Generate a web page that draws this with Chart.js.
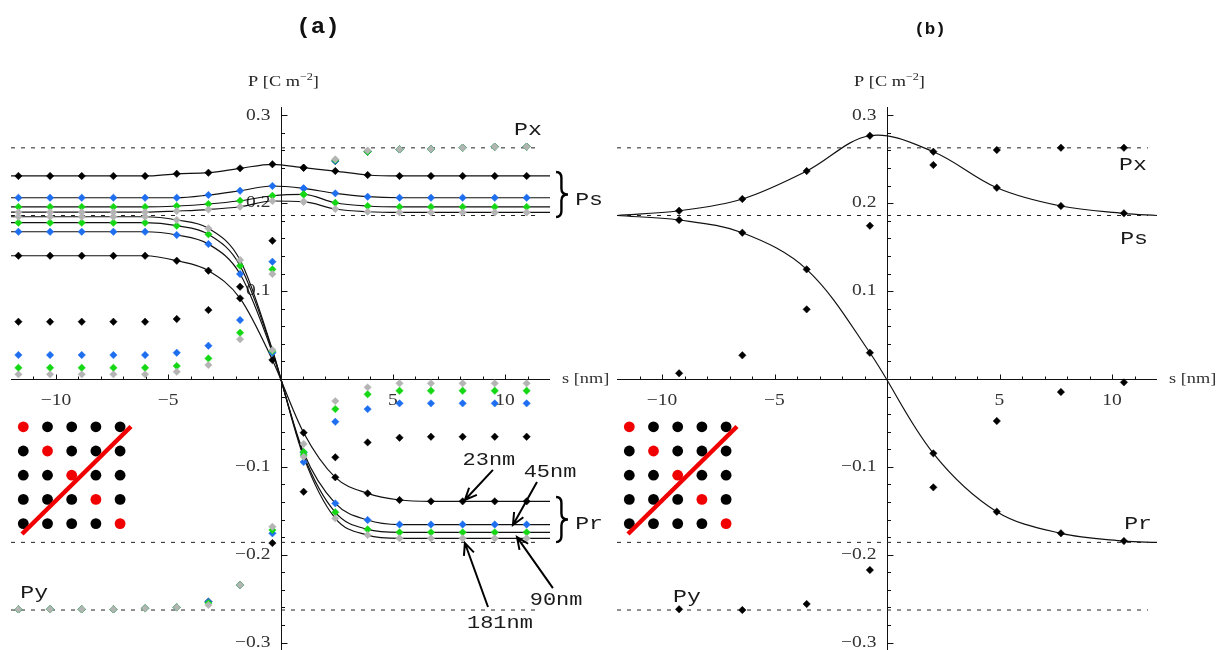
<!DOCTYPE html>
<html>
<head>
<meta charset="utf-8">
<script src="https://cdn.jsdelivr.net/npm/chart.js@4.4.1/dist/chart.umd.min.js"></script>
<style>
  html, body { margin: 0; padding: 0; background: #fff; }
  #wrap { position: relative; width: 1220px; height: 650px; overflow: hidden; }
  #wrap canvas { position: absolute; left: 0; top: 0; }
</style>
</head>
<body>
<div id="wrap">
  <canvas id="chartA" width="1220" height="650"></canvas>
  <canvas id="chartB" width="1220" height="650"></canvas>
</div>
<script>
// axis ranges (s in nm, P in C m^-2)
const S_MIN = -12, S_MAX = 12;
const P_MIN = -0.3085, P_MAX = 0.3095;
const xTickLabels = [-10, -5, 5, 10];
const yTickLabels = [-0.3, -0.2, -0.1, 0.1, 0.2, 0.3];

// reference levels (dashed)
const levelPx = 0.263, levelPs = 0.186, levelPr = -0.186, levelPy = -0.263;
const levelEnd = 11.6;

// (a) wall positions
const sA = [-11.67, -10.26, -8.85, -7.44, -6.03, -4.62, -3.21, -1.8, -0.36, 1.03, 2.44, 3.88, 5.3, 6.7, 8.11, 9.54, 10.96];

// 23 nm
const ps23 = [0.231, 0.231, 0.231, 0.231, 0.231, 0.2335, 0.2347, 0.2397, 0.2443, 0.2404, 0.2366, 0.2321, 0.231, 0.231, 0.231, 0.231, 0.231];
const pr23 = [0.1402, 0.1402, 0.1402, 0.1402, 0.1402, 0.1345, 0.1232, 0.0917, 0.0215, -0.0612, -0.112, -0.1302, -0.1378, -0.1393, -0.1393, -0.1393, -0.1393];
const px23 = [0.0651, 0.0651, 0.0651, 0.0651, 0.0651, 0.0682, 0.0784, 0.1049, 0.1573, 0.2404, 0.248, 0.2586, 0.2613, 0.2617, 0.2631, 0.2643, 0.2643];
const py23 = [-0.2622, -0.2622, -0.2622, -0.2622, -0.2611, -0.26, -0.2536, -0.2346, -0.1868, -0.1284, -0.0892, -0.0722, -0.0669, -0.0658, -0.0658, -0.0658, -0.0658];

// 45 nm
const ps45 = [0.2062, 0.2062, 0.2062, 0.2062, 0.2062, 0.2062, 0.2093, 0.2142, 0.2196, 0.2169, 0.2112, 0.2074, 0.2062, 0.2062, 0.2062, 0.2062, 0.2062];
const pr45 = [0.1675, 0.1675, 0.1675, 0.1675, 0.1675, 0.1638, 0.1535, 0.1194, 0.0298, -0.0838, -0.1416, -0.1606, -0.1657, -0.1657, -0.1657, -0.1657, -0.1657];
const px45 = [0.0272, 0.0272, 0.0272, 0.0272, 0.0272, 0.0298, 0.0378, 0.067, 0.1334, 0.2169, 0.248, 0.2586, 0.2613, 0.2617, 0.2631, 0.2643, 0.2643];
const py45 = [-0.2622, -0.2622, -0.2622, -0.2622, -0.2611, -0.26, -0.2536, -0.2346, -0.1757, -0.0946, -0.0487, -0.0343, -0.0278, -0.0278, -0.0278, -0.0278, -0.0278];

// 90 nm
const ps90 = [0.1958, 0.1958, 0.1958, 0.1958, 0.1958, 0.1968, 0.1991, 0.2028, 0.2085, 0.2101, 0.2005, 0.1968, 0.1958, 0.1958, 0.1958, 0.1958, 0.1958];
const pr90 = [0.1778, 0.1778, 0.1778, 0.1778, 0.1778, 0.1744, 0.1646, 0.1288, 0.0318, -0.0865, -0.1518, -0.1712, -0.1746, -0.1746, -0.1746, -0.1746, -0.1746];
const px90 = [0.0127, 0.0127, 0.0127, 0.0127, 0.0127, 0.0147, 0.0234, 0.0526, 0.1247, 0.2101, 0.2491, 0.2586, 0.2613, 0.2617, 0.2631, 0.2643, 0.2643];
const py90 = [-0.2622, -0.2622, -0.2622, -0.2622, -0.2611, -0.26, -0.2551, -0.2346, -0.172, -0.0832, -0.0343, -0.0175, -0.0134, -0.0134, -0.0134, -0.0134, -0.0134];

// 181 nm
const ps181 = [0.1898, 0.1898, 0.1898, 0.1898, 0.1898, 0.1911, 0.1928, 0.196, 0.2025, 0.2017, 0.1934, 0.1903, 0.1895, 0.1895, 0.1895, 0.1895, 0.1895];
const pr181 = [0.1846, 0.1846, 0.1846, 0.1846, 0.1846, 0.1809, 0.1714, 0.1353, 0.0329, -0.0887, -0.1587, -0.1777, -0.1814, -0.1814, -0.1814, -0.1814, -0.1814];
const px181 = [0.0052, 0.0052, 0.0052, 0.0052, 0.0052, 0.0082, 0.0158, 0.0451, 0.1194, 0.2017, 0.2499, 0.26, 0.2613, 0.2617, 0.2631, 0.2643, 0.2643];
const py181 = [-0.2622, -0.2622, -0.2622, -0.2622, -0.2611, -0.26, -0.2573, -0.2346, -0.1682, -0.0741, -0.0252, -0.0096, -0.005, -0.005, -0.005, -0.005, -0.005];

// (b) wall positions and polarisation components
const sB = [-9.24, -6.43, -3.57, -0.76, 2.06, 4.88, 7.73, 10.53];
const psB = [0.1914, 0.2048, 0.2366, 0.2768, 0.2586, 0.2176, 0.1968, 0.1885];
const prB = [0.1809, 0.1664, 0.1247, 0.0298, -0.0847, -0.1511, -0.1757, -0.1845];
const pxB = [0.0064, 0.0269, 0.0792, 0.1744, 0.2435, 0.2605, 0.2631, 0.2631];
const pyB = [-0.2622, -0.263, -0.2562, -0.2175, -0.1234, -0.0479, -0.0149, -0.0039];
const psEdgeB = [0.186, 0.186];
const prEdgeB = [0.186, -0.186];

const SERIF = '"Liberation Serif", "DejaVu Serif", serif';
const MONO = '"Liberation Mono", "DejaVu Sans Mono", monospace';
const SX = 1.22; // glyphs in this figure are set wide

function pts(xs, ys) {
    return xs.map((x, i) => ({ x: x, y: ys[i] }));
}

function lineSet(data, smooth) {
    const set = {
        data: data, showLine: true, pointRadius: 0, borderColor: '#111',
        borderWidth: 1.2, order: 10
    };
    if (smooth) set.tension = smooth;
    else set.cubicInterpolationMode = 'monotone';
    return set;
}

function dotSet(data, color, order) {
    return {
        data: data, showLine: false, pointStyle: 'rectRot', pointRadius: 3.7,
        pointBorderWidth: 0.5, backgroundColor: color, borderColor: color, order: order
    };
}

function dashSet(level) {
    return {
        data: pts([S_MIN, levelEnd], [level, level]), showLine: true, pointRadius: 0,
        borderColor: '#222', borderWidth: 1, borderDash: [4, 6], order: 11
    };
}

function text(ctx, str, x, y, font, align, color, sx) {
    ctx.save();
    ctx.font = font;
    ctx.textAlign = align;
    ctx.textBaseline = 'middle';
    ctx.fillStyle = color || '#222';
    ctx.translate(x, y);
    ctx.scale(sx || SX, 1);
    ctx.fillText(str, 0, 0);
    ctx.restore();
}

function fmt(v, digits) {
    const s = Math.abs(v).toFixed(digits);
    return v < 0 ? '\u2212' + s : s;
}

// P [C m^-2] with a raised exponent
function yTitle(ctx, cx, cy) {
    const parts = [
        { t: 'P [C m', f: '15px ' + SERIF, dy: 0 },
        { t: '\u22122', f: '10px ' + SERIF, dy: -5 },
        { t: ']', f: '15px ' + SERIF, dy: 0 }
    ];
    let total = 0;
    parts.forEach(p => { ctx.font = p.f; p.w = ctx.measureText(p.t).width * SX; total += p.w; });
    let x = cx - total / 2;
    parts.forEach(p => { text(ctx, p.t, x, cy + p.dy, p.f, 'left', '#222'); x += p.w; });
}

function brace(ctx, x, yTop, yBot, w) {
    const ym = (yTop + yBot) / 2, xm = x + w * 0.45, r = 6;
    ctx.beginPath();
    ctx.moveTo(x, yTop);
    ctx.quadraticCurveTo(xm, yTop, xm, yTop + r);
    ctx.lineTo(xm, ym - r);
    ctx.quadraticCurveTo(xm, ym, x + w, ym);
    ctx.quadraticCurveTo(xm, ym, xm, ym + r);
    ctx.lineTo(xm, yBot - r);
    ctx.quadraticCurveTo(xm, yBot, x, yBot);
    ctx.stroke();
}

function arrow(ctx, x1, y1, x2, y2) {
    const ang = Math.atan2(y2 - y1, x2 - x1), head = 13, spread = 0.42;
    ctx.beginPath();
    ctx.moveTo(x1, y1);
    ctx.lineTo(x2, y2);
    ctx.moveTo(x2 - head * Math.cos(ang - spread), y2 - head * Math.sin(ang - spread));
    ctx.lineTo(x2, y2);
    ctx.lineTo(x2 - head * Math.cos(ang + spread), y2 - head * Math.sin(ang + spread));
    ctx.stroke();
}

// 5x5 lattice sketch with the red diagonal and the cut line
function lattice(ctx, left, y0) {
    ctx.save();
    for (let r = 0; r < 5; r++) {
        for (let c = 0; c < 5; c++) {
            ctx.beginPath();
            ctx.arc(left + 12.3 + c * 24.2, y0 + 47.8 + r * 24.2, 5.4, 0, Math.PI * 2);
            ctx.fillStyle = r === c ? '#f00000' : '#000';
            ctx.fill();
        }
    }
    ctx.strokeStyle = '#f00000';
    ctx.lineWidth = 4.5;
    ctx.beginPath();
    ctx.moveTo(left + 11, y0 + 155);
    ctx.lineTo(left + 120, y0 + 47.5);
    ctx.stroke();
    ctx.restore();
}

function makeOverlay(cfg) {
    return {
        id: 'overlay' + cfg.key,
        beforeDatasetsDraw(chart) {
            const { ctx, chartArea: a, scales: { x, y } } = chart;
            const x0 = Math.round(x.getPixelForValue(0)) + 0.5;
            const y0 = Math.round(y.getPixelForValue(0)) + 0.5;
            ctx.save();
            ctx.strokeStyle = '#111';
            ctx.lineWidth = 1;
            ctx.beginPath();
            ctx.moveTo(a.left, y0); ctx.lineTo(a.right, y0);
            ctx.moveTo(x0, a.top); ctx.lineTo(x0, a.bottom);
            for (let k = -11; k <= 11; k++) {
                if (k === 0) continue;
                const px = Math.round(x.getPixelForValue(k)) + 0.5;
                ctx.moveTo(px, y0);
                ctx.lineTo(px, y0 - (k % 5 === 0 ? 5 : 3));
            }
            for (let k = -15; k <= 15; k++) {
                if (k === 0) continue;
                const py = Math.round(y.getPixelForValue(k * 0.02)) + 0.5;
                ctx.moveTo(x0, py);
                ctx.lineTo(x0 + (k % 5 === 0 ? 6 : 3.5), py);
            }
            ctx.stroke();
            const tickFont = '16px ' + SERIF;
            xTickLabels.forEach(v => text(ctx, fmt(v, 0), x.getPixelForValue(v), y0 + 21, tickFont, 'center', '#333'));
            yTickLabels.forEach(v => text(ctx, fmt(v, 1), x0 - 11, y.getPixelForValue(v), tickFont, 'right', '#333'));
            text(ctx, 's [nm]', a.right + 12, y0, '15px ' + SERIF, 'left', '#333');
            yTitle(ctx, x0 + 2, a.top - 25);
            ctx.restore();
        },
        afterDatasetsDraw(chart) {
            const { ctx, chartArea: a, scales: { x, y } } = chart;
            const px = v => x.getPixelForValue(v), py = v => y.getPixelForValue(v);
            ctx.save();
            text(ctx, cfg.title, px(cfg.titleAt[0]), py(cfg.titleAt[1]), cfg.titleFont, 'center', '#111', 1.1);
            cfg.notes.forEach(n => text(ctx, n.t, px(n.s), py(n.p), n.font || '19px ' + MONO, 'center', '#1a1a1a'));
            ctx.strokeStyle = '#000';
            ctx.lineWidth = 2.4;
            (cfg.braces || []).forEach(b => brace(ctx, px(b.s), py(b.top), py(b.bot), px(b.s2) - px(b.s)));
            ctx.lineWidth = 2;
            (cfg.arrows || []).forEach(r => arrow(ctx, px(r.from[0]), py(r.from[1]), px(r.to[0]), py(r.to[1])));
            lattice(ctx, a.left, Math.round(py(0)));
            ctx.restore();
        }
    };
}

function baseOptions(padLeft, padRight) {
    return {
        responsive: false, animation: false, devicePixelRatio: 1, events: [],
        layout: { autoPadding: false, padding: { left: padLeft, right: padRight, top: 107, bottom: 0 } },
        plugins: { legend: { display: false }, tooltip: { enabled: false } },
        scales: {
            x: { type: 'linear', min: S_MIN, max: S_MAX, display: false },
            y: { type: 'linear', min: P_MIN, max: P_MAX, display: false }
        }
    };
}

// --- panel (a): four sample sizes ---
const sizes = [
    { color: '#000000', ps: ps23, pr: pr23, px: px23, py: py23, order: 4 },
    { color: '#1e6ef0', ps: ps45, pr: pr45, px: px45, py: py45, order: 3 },
    { color: '#14d814', ps: ps90, pr: pr90, px: px90, py: py90, order: 2 },
    { color: '#b4b4b4', ps: ps181, pr: pr181, px: px181, py: py181, order: 1 }
];

const setsA = [dashSet(levelPx), dashSet(levelPs), dashSet(levelPr), dashSet(levelPy)];
sizes.forEach(sz => {
    [sz.ps, sz.pr].forEach(vals => {
        setsA.push(lineSet([{ x: S_MIN, y: vals[0] }].concat(pts(sA, vals), [{ x: S_MAX, y: vals[vals.length - 1] }])));
    });
    [sz.ps, sz.pr, sz.px, sz.py].forEach(vals => setsA.push(dotSet(pts(sA, vals), sz.color, sz.order)));
});

new Chart(document.getElementById('chartA'), {
    type: 'scatter',
    data: { datasets: setsA },
    options: baseOptions(11, 670),
    plugins: [makeOverlay({
        key: 'A', title: '(a)', titleAt: [1.67, 0.4005], titleFont: 'bold 22px ' + MONO,
        notes: [
            { t: 'Px', s: 11.02, p: 0.2833 },
            { t: 'Ps', s: 13.74, p: 0.2036 },
            { t: 'Pr', s: 13.74, p: -0.1651 },
            { t: 'Py', s: -10.97, p: -0.2437 },
            { t: '23nm', s: 9.28, p: -0.0923, font: '18px ' + MONO },
            { t: '45nm', s: 12.0, p: -0.1059, font: '18px ' + MONO },
            { t: '90nm', s: 12.27, p: -0.2516, font: '18px ' + MONO },
            { t: '181nm', s: 9.77, p: -0.2778, font: '18px ' + MONO }
        ],
        braces: [
            { s: 12.27, s2: 12.8, top: 0.2355, bot: 0.1843 },
            { s: 12.27, s2: 12.8, top: -0.1344, bot: -0.1857 }
        ],
        arrows: [
            { from: [9.46, -0.1035], to: [8.21, -0.1378] },
            { from: [11.42, -0.1172], to: [10.35, -0.1662] },
            { from: [12.13, -0.238], to: [10.53, -0.18] },
            { from: [9.24, -0.2596], to: [8.21, -0.1867] }
        ]
    })]
});

// --- panel (b) ---
const setsB = [
    dashSet(levelPx), dashSet(levelPs), dashSet(levelPr), dashSet(levelPy),
    lineSet(pts([S_MIN].concat(sB, [S_MAX]), [psEdgeB[0]].concat(psB, [psEdgeB[1]])), 0.35),
    lineSet(pts([S_MIN].concat(sB, [S_MAX]), [prEdgeB[0]].concat(prB, [prEdgeB[1]])), 0.35),
    dotSet(pts(sB, psB), '#000', 1),
    dotSet(pts(sB, prB), '#000', 1),
    dotSet(pts(sB, pxB), '#000', 1),
    dotSet(pts(sB, pyB), '#000', 1)
];

new Chart(document.getElementById('chartB'), {
    type: 'scatter',
    data: { datasets: setsB },
    options: baseOptions(617, 63),
    plugins: [makeOverlay({
        key: 'B', title: '(b)', titleAt: [1.91, 0.397], titleFont: 'bold 16px ' + MONO,
        notes: [
            { t: 'Px', s: 10.93, p: 0.2435 },
            { t: 'Ps', s: 10.98, p: 0.1592 },
            { t: 'Pr', s: 11.16, p: -0.1651 },
            { t: 'Py', s: -8.89, p: -0.2482 }
        ]
    })]
});
</script>
</body>
</html>
